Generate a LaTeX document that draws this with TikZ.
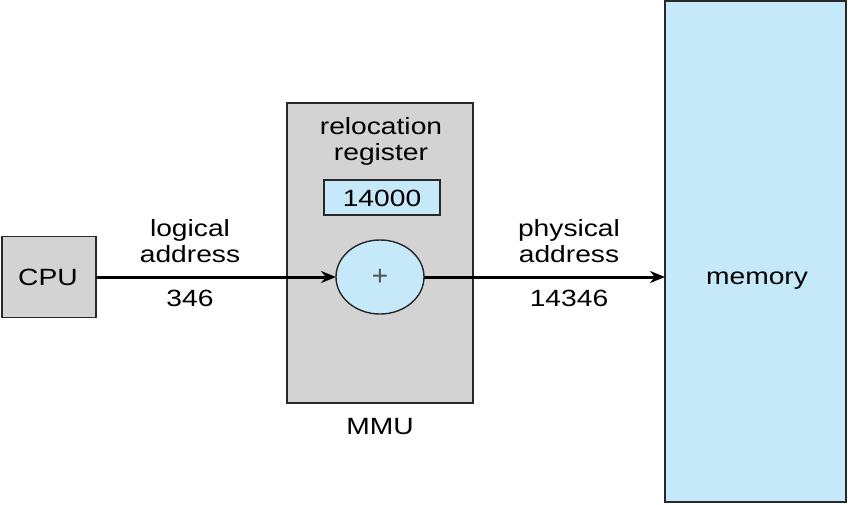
\documentclass[tikz,border=0pt]{standalone}
\usepackage{fontspec}
\setmainfont{Liberation Sans}
\newfontfamily\widefont[FakeStretch=1.2]{Liberation Sans}
\usetikzlibrary{arrows.meta,shapes.geometric}
\definecolor{boxgray}{RGB}{211,211,211}
\definecolor{lblue}{RGB}{198,233,250}
\definecolor{edge}{RGB}{40,40,40}
\begin{document}
\begin{tikzpicture}[x=1pt,y=-1pt,
  box/.style={draw=edge,line width=1.4pt,inner sep=0pt,outer sep=0pt},
  lbl/.style={font=\widefont\fontsize{23.5}{26}\selectfont,align=center,inner sep=0pt},
  conn/.style={line width=3pt,-{Stealth[length=15pt,width=12pt]}}]
\useasboundingbox (0,0) rectangle (848,504);
\node[box,fill=boxgray,minimum width=94pt,minimum height=81pt] (cpu) at (49,277) {};
\node[lbl] (cputext) at (48,277) {CPU};
\node[box,fill=boxgray,minimum width=186pt,minimum height=300pt] (mmu) at (380,253) {};
\node[box,fill=lblue,minimum width=181pt,minimum height=501pt] (mem) at (755.5,251.5) {};
\node[lbl] (memtext) at (757,281) {memory};
\node[lbl] (reloc) at (381,141) {relocation\\register};
\node[box,fill=lblue,minimum width=116pt,minimum height=35pt] (reg) at (382,197.5) {};
\node[lbl] (regtext) at (382,198) {14000};
\node[draw=edge,line width=1.4pt,fill=lblue,ellipse,minimum width=88pt,minimum height=74pt,inner sep=0pt,outer sep=0pt] (plus) at (380,277) {};
\node[font=\fontsize{28}{30}\selectfont,text=edge!80] (plustext) at (380,277) {+};
\node[lbl] (logical) at (190,241) {logical\\address};
\node[lbl] (n346) at (190,298) {346};
\node[lbl] (physical) at (569,241) {physical\\address};
\node[lbl] (n14346) at (569,298) {14346};
\node[lbl] (mmutext) at (380,427) {MMU};
\draw[conn] (cpu.east) -- (plus.west);
\draw[conn] (plus.east) -- (mem.west |- plus.east);
\end{tikzpicture}
\end{document}
